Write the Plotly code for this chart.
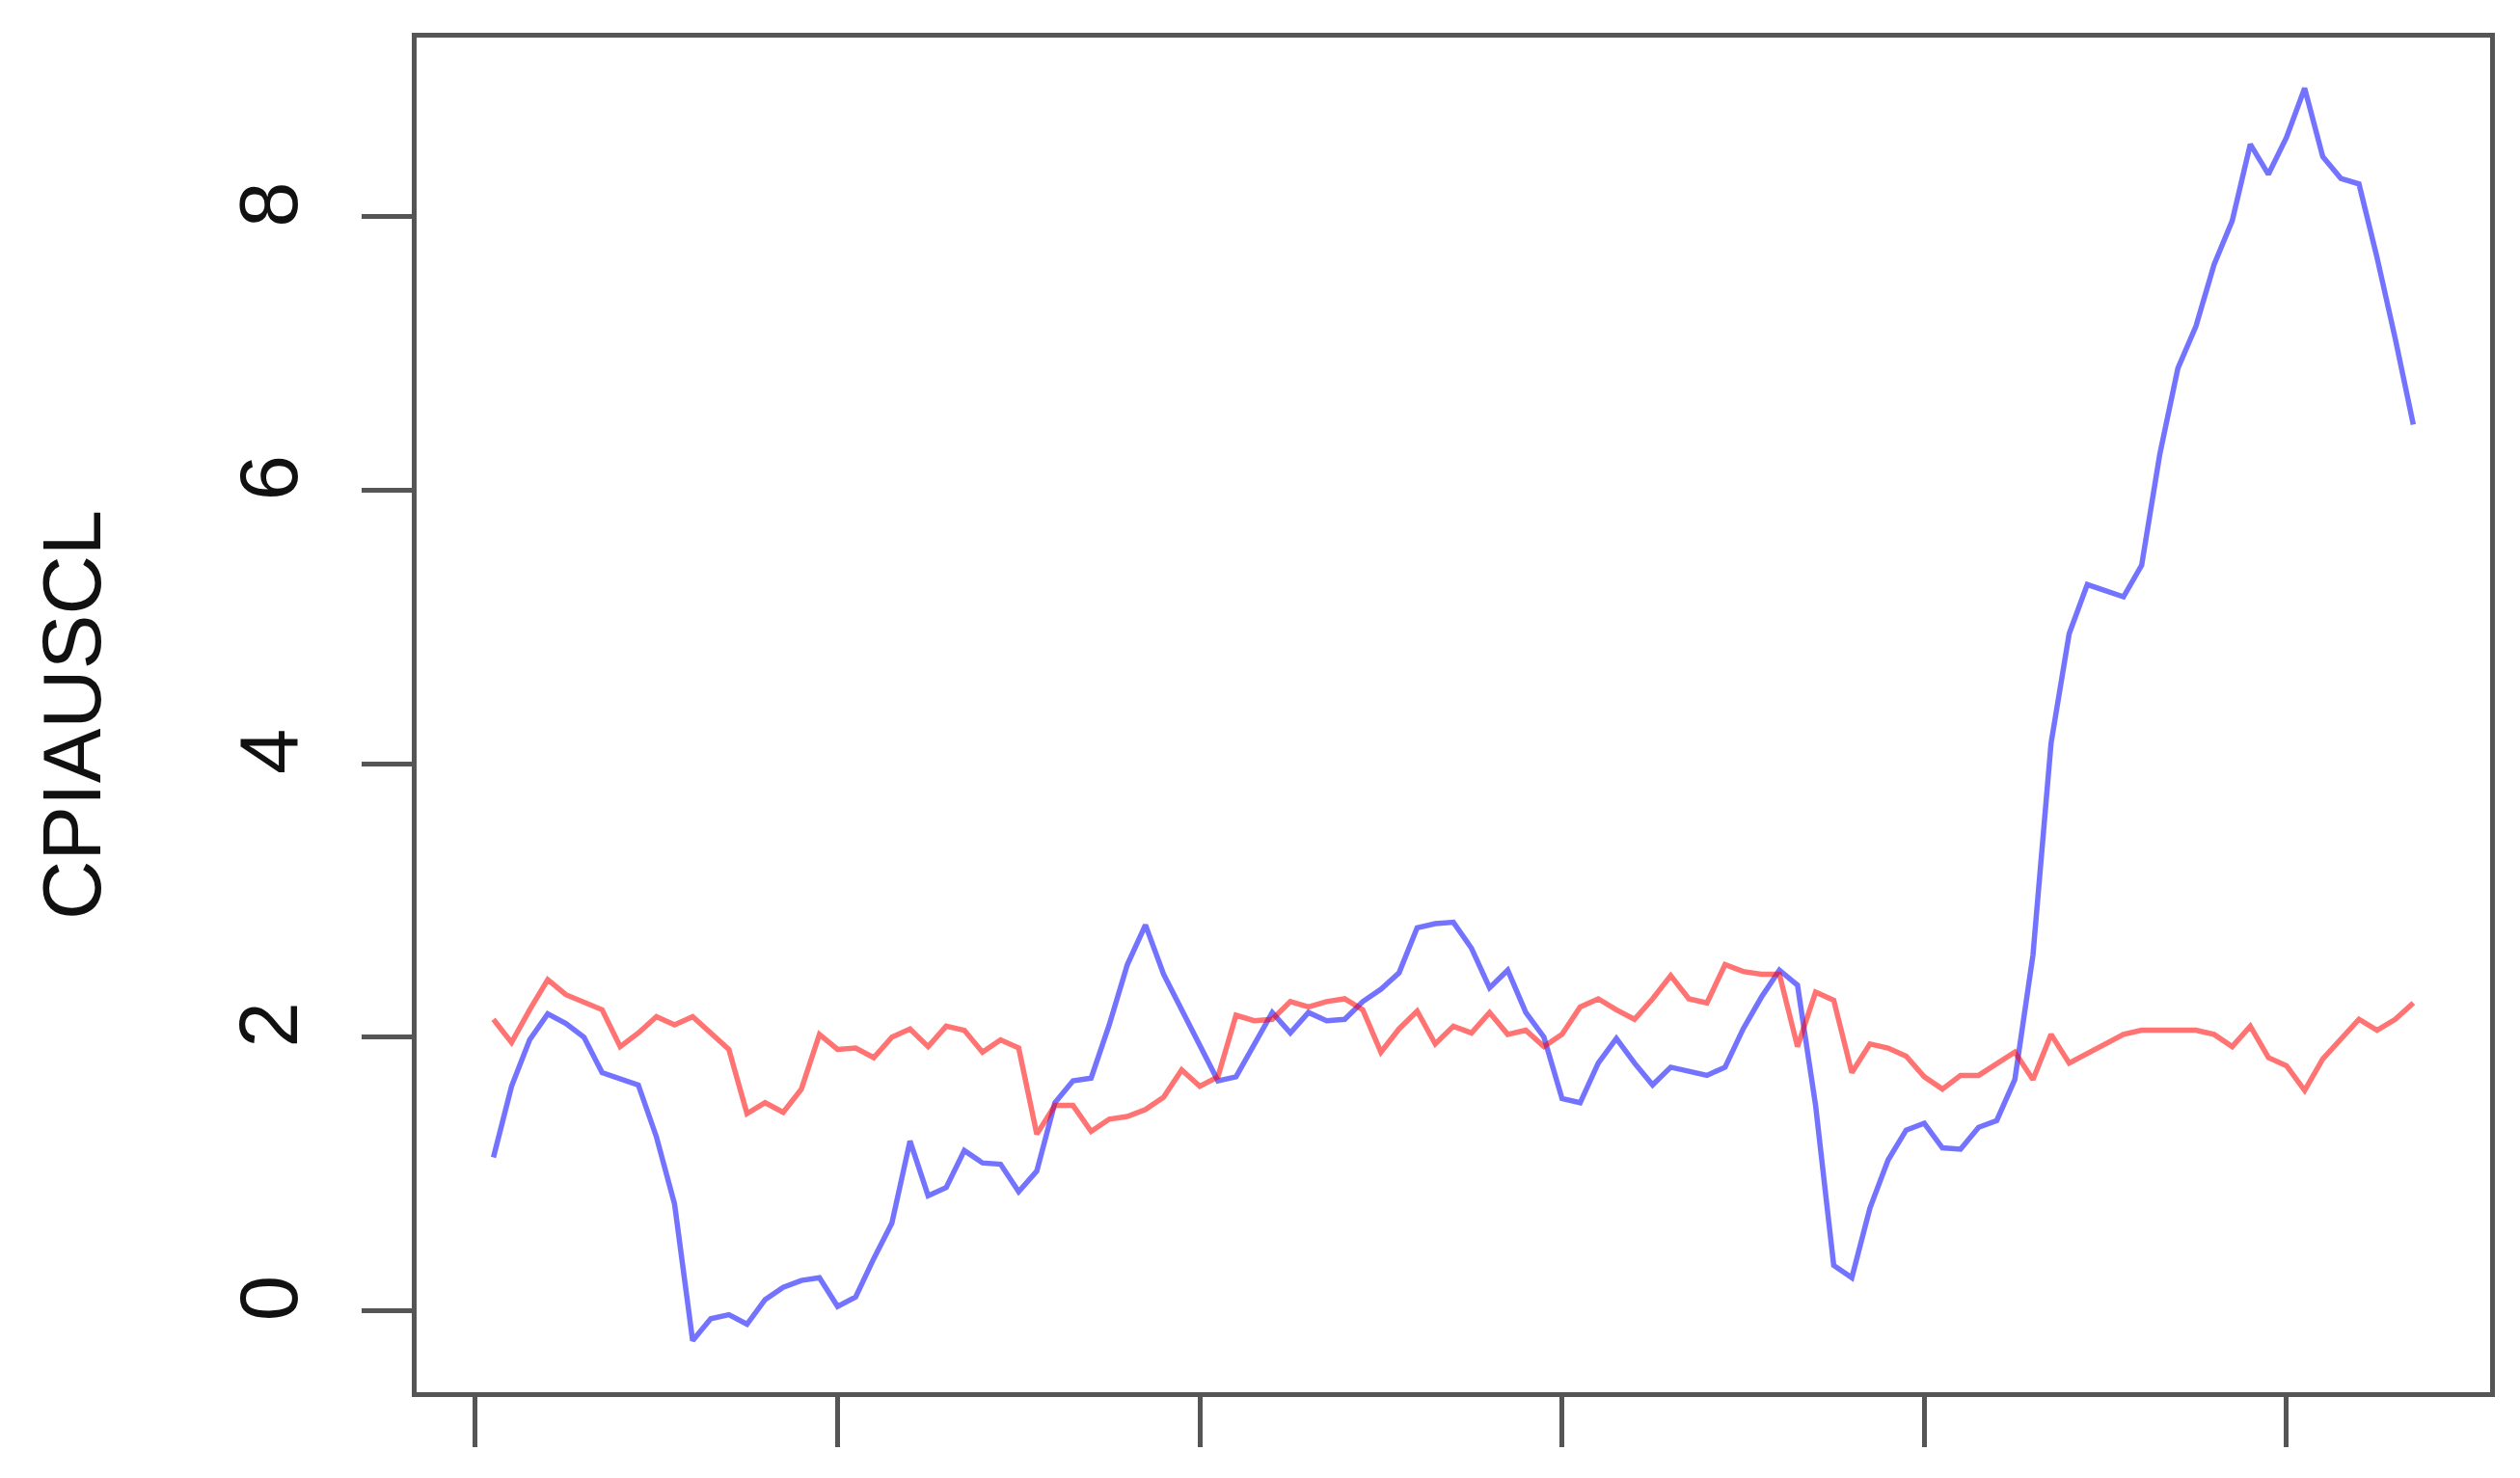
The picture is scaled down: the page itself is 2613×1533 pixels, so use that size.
import plotly.graph_objects as go

# Index (R plot of a vector: x = 1..n)
cpi_yoy = [1.12, 1.64, 1.98, 2.17, 2.10, 2.00, 1.74, 1.70, 1.65, 1.27,
           0.78, -0.22, -0.06, -0.03, -0.10, 0.08, 0.17, 0.22, 0.24, 0.03,
           0.10, 0.38, 0.64, 1.24, 0.84, 0.90, 1.17, 1.08, 1.07, 0.87,
           1.02, 1.52, 1.68, 1.70, 2.09, 2.53, 2.82, 2.46, 2.20, 1.92,
           1.68, 1.71, 1.95, 2.18, 2.03, 2.18, 2.12, 2.13, 2.26, 2.35,
           2.47, 2.80, 2.83, 2.84, 2.65, 2.36, 2.49, 2.18, 2.00, 1.55,
           1.52, 1.81, 1.99, 1.81, 1.65, 1.78, 1.75, 1.72, 1.78, 2.06,
           2.29, 2.49, 2.38, 1.50, 0.33, 0.24, 0.75, 1.10, 1.32, 1.37,
           1.19, 1.18, 1.34, 1.39, 1.69, 2.60, 4.15, 4.95, 5.31, 5.27,
           5.22, 5.45, 6.26, 6.89, 7.20, 7.65, 7.97, 8.53, 8.31, 8.58,
           8.94, 8.44, 8.28, 8.24, 7.70, 7.11, 6.48]

other_series = [2.13, 1.96, 2.20, 2.42, 2.31, 2.26, 2.20, 1.93, 2.03, 2.15,
                2.09, 2.15, 2.03, 1.91, 1.44, 1.52, 1.45, 1.62, 2.02, 1.91,
                1.92, 1.85, 2.00, 2.06, 1.93, 2.08, 2.05, 1.89, 1.98, 1.92,
                1.29, 1.50, 1.50, 1.31, 1.40, 1.42, 1.47, 1.56, 1.76, 1.64,
                1.71, 2.16, 2.12, 2.13, 2.26, 2.22, 2.26, 2.28, 2.20, 1.89,
                2.06, 2.19, 1.95, 2.08, 2.03, 2.18, 2.02, 2.05, 1.93, 2.02,
                2.22, 2.28, 2.20, 2.13, 2.28, 2.45, 2.28, 2.25, 2.53, 2.48,
                2.46, 2.46, 1.93, 2.33, 2.27, 1.74, 1.95, 1.92, 1.86, 1.71,
                1.62, 1.72, 1.72, 1.81, 1.89, 1.69, 2.02, 1.81, 1.88, 1.96,
                2.02, 2.05, 2.05, 2.05, 2.05, 2.02, 1.93, 2.08, 1.85, 1.79,
                1.61, 1.84, 1.98, 2.13, 2.05, 2.13, 2.25]

x_index = list(range(1, len(cpi_yoy) + 1))
x_ticks = [0, 20, 40, 60, 80, 100]
y_ticks = [0, 2, 4, 6, 8]
y_label = "CPIAUSCL"

AX = "#555555"
FONT = "Liberation Sans, Arial, sans-serif"

fig = go.Figure()
fig.add_trace(go.Scatter(x=x_index, y=cpi_yoy, mode="lines",
                         line=dict(color="rgba(0,0,255,0.55)", width=5.5),
                         showlegend=False))
fig.add_trace(go.Scatter(x=x_index, y=other_series, mode="lines",
                         line=dict(color="rgba(255,0,0,0.55)", width=5.5),
                         showlegend=False))

# page body has an 8px margin; figure sized to fit inside the window
fig.update_layout(
    width=2597, height=1517,
    margin=dict(l=424, r=23, t=31, b=81),
    paper_bgcolor="white", plot_bgcolor="white",
    font=dict(family=FONT, color="#111111", size=85),
)
fig.update_xaxes(
    range=[-3.24, 111.24], tickvals=x_ticks, showticklabels=False,
    ticks="outside", ticklen=52, tickwidth=4.5, tickcolor=AX,
    showline=True, linecolor=AX, linewidth=4.5, mirror=True,
    showgrid=False, zeroline=False,
)
fig.update_yaxes(
    range=[-0.597, 9.31], tickvals=y_ticks, ticktext=[str(v) for v in y_ticks],
    tickangle=-90, tickfont=dict(size=85, family=FONT, color="#111111"),
    ticklabelstandoff=33,
    ticks="outside", ticklen=52, tickwidth=4.5, tickcolor=AX,
    showline=True, linecolor=AX, linewidth=4.5, mirror=True,
    showgrid=False, zeroline=False,
    title=dict(text=y_label, font=dict(size=85, family=FONT, color="#111111"), standoff=100),
)

fig.write_html("out.html")
